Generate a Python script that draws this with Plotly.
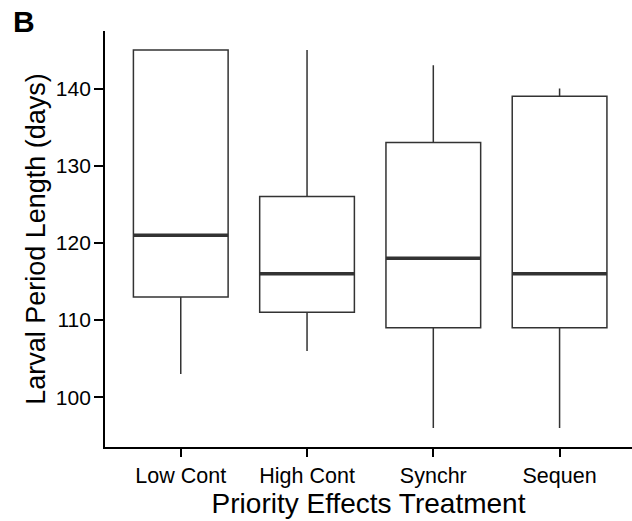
import plotly.graph_objects as go

# Larval period length (days) by priority-effects treatment
treatments = ["Low Cont", "High Cont", "Synchr", "Sequen"]
lower_whisker = [103, 106, 96, 96]
q1 = [113, 111, 109, 109]
median = [121, 116, 118, 116]
q3 = [145, 126, 133, 139]
upper_whisker = [145, 145, 143, 140]

pos = list(range(1, len(treatments) + 1))
box_w = 0.75
ink = "#333333"
font = "Liberation Sans, Arial, sans-serif"

fig = go.Figure()
fig.add_trace(go.Box(
    x=pos,
    q1=q1, median=median, q3=q3,
    lowerfence=lower_whisker, upperfence=upper_whisker,
    width=box_w,
    whiskerwidth=0,
    fillcolor="white",
    line=dict(color=ink, width=1.5),
    boxpoints=False,
    showlegend=False,
    hoverinfo="skip",
))

# thicker median bars, as in ggplot's boxplot
mx, my = [], []
for p, m in zip(pos, median):
    mx += [p - box_w / 2, p + box_w / 2, None]
    my += [m, m, None]
fig.add_trace(go.Scatter(
    x=mx, y=my, mode="lines",
    line=dict(color=ink, width=3.5),
    showlegend=False, hoverinfo="skip",
))

fig.update_layout(
    width=632, height=521,
    margin=dict(l=105, r=0, t=31, b=74),
    plot_bgcolor="white", paper_bgcolor="white",
    font=dict(family=font, color="black"),
    xaxis=dict(
        range=[0.4, 4.5735],
        tickvals=pos, ticktext=treatments,
        showline=True, linecolor="black", linewidth=1.8,
        ticks="outside", ticklen=8, tickwidth=1.8, tickcolor="black",
        tickfont=dict(size=21.5, color="black"),
        showgrid=False, zeroline=False,
        title=dict(text="Priority Effects Treatment",
                   font=dict(size=28, color="black"), standoff=0),
    ),
    yaxis=dict(
        range=[93.55, 147.45],
        tickvals=[100, 110, 120, 130, 140],
        showline=True, linecolor="black", linewidth=1.8,
        ticks="outside", ticklen=9, tickwidth=1.8, tickcolor="black",
        tickfont=dict(size=21, color="black"),
        ticklabelstandoff=-1,
        showgrid=False, zeroline=False,
        title=dict(text="Larval Period Length (days)",
                   font=dict(size=27, color="black"), standoff=2),
    ),
    annotations=[dict(
        text="<b>B</b>", xref="paper", yref="paper",
        x=-0.178, y=1.022, xanchor="left", yanchor="middle",
        showarrow=False, font=dict(size=30, color="black", family=font),
    )],
)

fig.write_html("out.html")
